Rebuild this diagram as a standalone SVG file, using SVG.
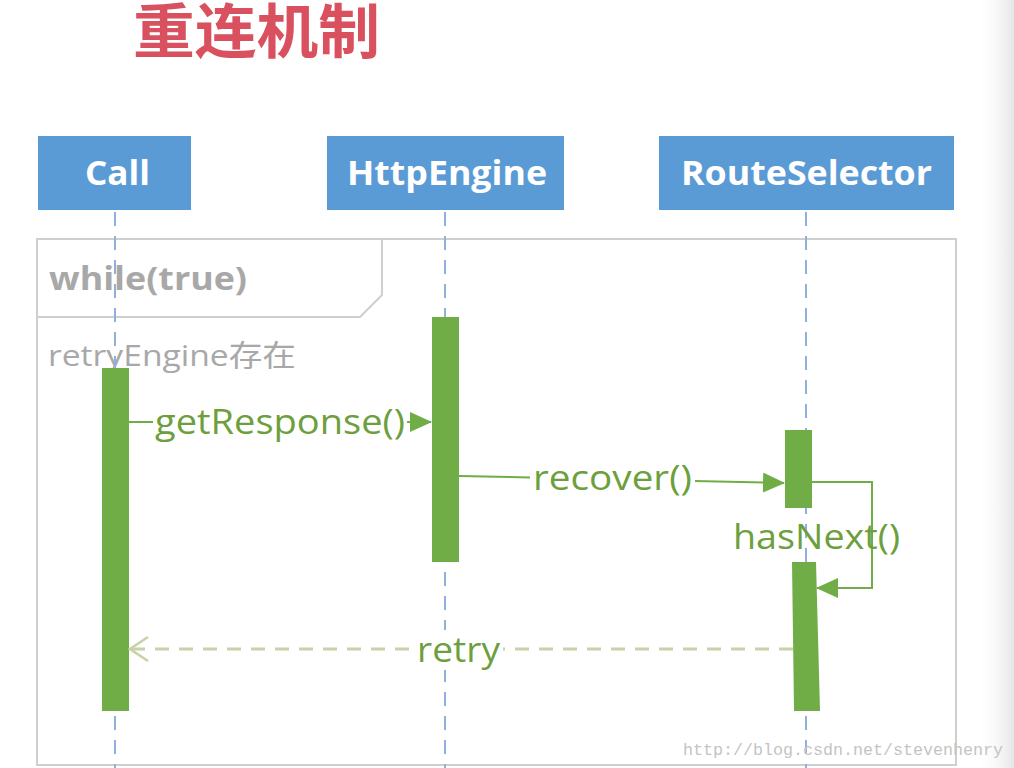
<svg xmlns="http://www.w3.org/2000/svg" width="1014" height="768" viewBox="0 0 1014 768">
<defs>
<linearGradient id="edge" x1="0" x2="1" y1="0" y2="0">
<stop offset="0" stop-color="#ffffff" stop-opacity="0"/>
<stop offset="1" stop-color="#e6e6e6"/>
</linearGradient>
<marker id="fillbig" markerWidth="22" markerHeight="20" refX="21" refY="10" orient="auto" markerUnits="userSpaceOnUse">
<path d="M0,0 L22,10 L0,20 z" fill="#70ad47"/>
</marker>
<marker id="open" markerWidth="22" markerHeight="26" refX="20" refY="13" orient="auto" markerUnits="userSpaceOnUse">
<path d="M2,1 L20,13 L2,25" fill="none" stroke="#c8d2a8" stroke-width="2.5"/>
</marker>
<style>
.hdr{fill:#5b9bd5}
.hdrt{fill:#fff;font-family:"Open Sans","Noto Sans",sans-serif;font-weight:bold;font-size:34px}
.life{stroke:#8fb0dc;stroke-width:2;stroke-dasharray:14 10;fill:none}
.bar{fill:#70ad47}
.msg{stroke:#70ad47;stroke-width:2;fill:none}
.lbl{fill:#6e9f3e;font-family:"Open Sans","Noto Sans",sans-serif;font-size:34px}
</style>
</defs>
<rect width="1014" height="768" fill="#ffffff"/>
<rect x="975" y="0" width="39" height="768" fill="url(#edge)"/>
<text x="133" y="53" font-family="Noto Sans CJK SC, sans-serif" font-weight="bold" font-size="59" fill="#d9505e" textLength="247" lengthAdjust="spacingAndGlyphs">重连机制</text>
<g id="frame">
<rect x="37" y="239" width="919" height="526" fill="none" stroke="#cfcfcf" stroke-width="2"/>
<path d="M37,239 L382,239 L382,295 L360,317 L37,317" fill="none" stroke="#cfcfcf" stroke-width="2"/>
<text x="49" y="290" font-family="Open Sans, Noto Sans, sans-serif" font-weight="bold" font-size="33" fill="#a8a8a8" textLength="198" lengthAdjust="spacingAndGlyphs">while(true)</text>
<text x="48" y="366" font-family="Open Sans, Noto Sans CJK SC, sans-serif" font-size="30" fill="#a8a8a8" textLength="248" lengthAdjust="spacingAndGlyphs">retryEngine存在</text>
</g>
<g id="lifelines">
<line class="life" x1="115" y1="212" x2="115" y2="768"/>
<line class="life" x1="445" y1="212" x2="445" y2="768"/>
<line class="life" x1="806" y1="212" x2="806" y2="768"/>
</g>
<g id="call">
<rect class="hdr" x="38" y="136" width="153" height="74"/>
<text class="hdrt" x="85" y="185" textLength="65" lengthAdjust="spacingAndGlyphs">Call</text>
<rect class="bar" x="102" y="368" width="27" height="343"/>
</g>
<g id="httpengine">
<rect class="hdr" x="327" y="136" width="237" height="74"/>
<text class="hdrt" x="347" y="185" textLength="200" lengthAdjust="spacingAndGlyphs">HttpEngine</text>
<rect class="bar" x="432" y="317" width="27" height="245"/>
</g>
<g id="routeselector">
<rect class="hdr" x="659" y="136" width="295" height="74"/>
<text class="hdrt" x="681" y="185" textLength="251" lengthAdjust="spacingAndGlyphs">RouteSelector</text>
<rect class="bar" x="785" y="430" width="27" height="78"/>
<path class="bar" d="M792,562 L816,562 L820,711 L794,711 z"/>
</g>
<g id="connectors">
<line class="msg" x1="129" y1="422" x2="431" y2="422" marker-end="url(#fillbig)"/>
<line class="msg" x1="459" y1="476" x2="784" y2="483" marker-end="url(#fillbig)"/>
<path class="msg" d="M812,482 L872,482 L872,588 L817,588" marker-end="url(#fillbig)"/>
<line x1="793" y1="649" x2="130" y2="649" stroke="#c8d2a8" stroke-width="3" stroke-dasharray="14 10" marker-end="url(#open)"/>
</g>
<g id="labels">
<rect x="153" y="400" width="254" height="42" fill="#fff"/>
<text class="lbl" x="155" y="434" textLength="250" lengthAdjust="spacingAndGlyphs">getResponse()</text>
<rect x="530" y="455" width="165" height="42" fill="#fff"/>
<text class="lbl" x="533" y="490" textLength="159" lengthAdjust="spacingAndGlyphs">recover()</text>
<text class="lbl" x="733" y="549" textLength="167" lengthAdjust="spacingAndGlyphs">hasNext()</text>
<rect x="415" y="630" width="88" height="40" fill="#fff"/>
<text class="lbl" x="417" y="662" fill="#779a4f" textLength="83" lengthAdjust="spacingAndGlyphs">retry</text>
</g>
<text x="683" y="755" font-family="Liberation Mono, monospace" font-size="17" fill="#c4c4c4" textLength="320" lengthAdjust="spacingAndGlyphs">http://blog.csdn.net/stevenhenry</text>
</svg>
